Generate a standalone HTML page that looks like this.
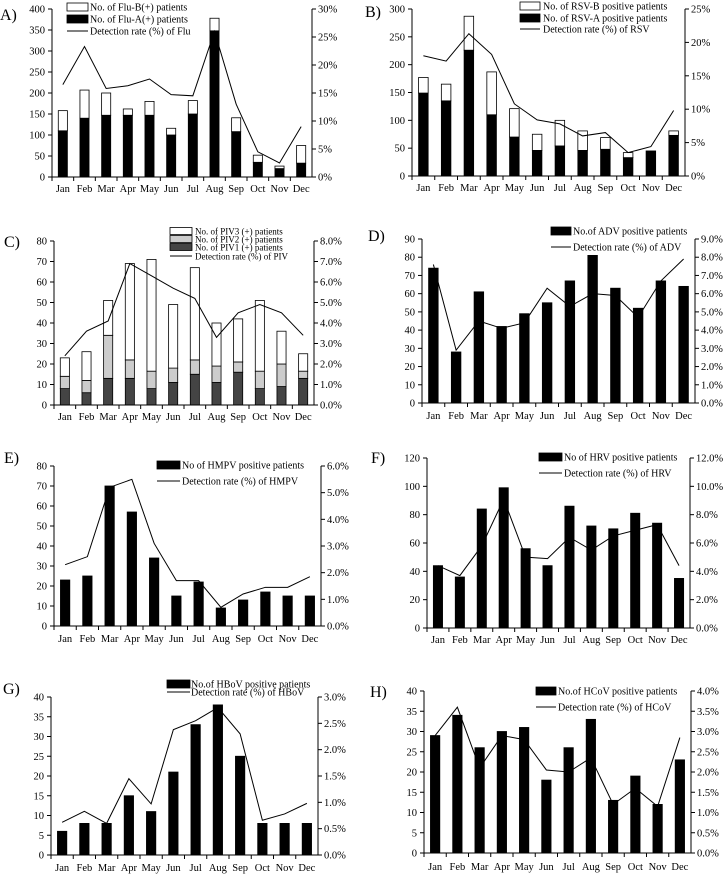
<!DOCTYPE html>
<html><head><meta charset="utf-8">
<style>
html,body{margin:0;padding:0;background:#fff;}
svg{display:block;font-family:"Liberation Serif",serif;}
</style></head>
<body>
<svg id="chart" width="723" height="875" viewBox="0 0 723 875" xmlns="http://www.w3.org/2000/svg"></svg>
<script>
const months = ["Jan","Feb","Mar","Apr","May","Jun","Jul","Aug","Sep","Oct","Nov","Dec"];
// A Flu
const fluA = [110,140,147,147,147,100,150,348,108,35,20,33];
const fluB = [48,67,53,15,33,16,32,30,33,17,6,42];
const fluRate = [16.5,23.3,15.8,16.3,17.5,14.7,14.5,26,13,4.5,2.5,9];
// B RSV
const rsvA = [149,135,226,110,70,46,54,46,48,33,45,73];
const rsvB = [28,30,61,77,51,29,46,35,21,9,0,8];
const rsvRate = [18,17.2,21.3,18.2,10.8,8.4,7.8,6,6.5,3.5,4.4,9.8];
// C PIV
const piv1 = [8,6,13,13,8,11,15,11,16,8,9,13];
const piv2 = [6,6,21,9,8.5,7,7,8,5,8.5,11,3.5];
const piv3 = [9,14,17,47,54.5,31,45,21,21,34.5,16,8.5];
const pivRate = [2.4,3.6,4.1,6.9,6.3,5.7,5.2,3.3,4.5,4.9,4.5,3.4];
// D ADV
const adv = [74,28,61,42,49,55,67,81,63,52,67,64];
const advRate = [7.6,2.9,4.5,4.1,4.4,6.3,5.3,6,5.9,4.7,6.7,7.9];
// E HMPV
const hmpv = [23,25,70,57,34,15,22,9,13,17,15,15];
const hmpvRate = [2.3,2.6,5.2,5.5,3.1,1.7,1.7,0.7,1.2,1.45,1.45,1.85];
// F HRV
const hrv = [44,36,84,99,56,44,86,72,70,81,74,35];
const hrvRate = [4.4,3.7,5.8,9.1,5,4.9,6.4,5.5,6.5,6.9,7.3,4.4];
// G HBoV
const hbov = [6,8,8,15,11,21,33,38,25,8,8,8];
const hbovRate = [0.62,0.83,0.6,1.45,0.97,2.38,2.55,2.8,2.3,0.66,0.78,0.98];
// H HCoV
const hcov = [29,34,26,30,31,18,26,33,13,19,12,23];
const hcovRate = [2.9,3.6,2.1,2.9,2.8,2.05,2.0,2.35,1.2,1.6,1.15,2.85];

const NS = "http://www.w3.org/2000/svg";
const svg = document.getElementById("chart");
function mk(tag, attrs, parent, text){
  const e = document.createElementNS(NS, tag);
  for (const k in attrs) e.setAttribute(k, attrs[k]);
  if (text !== undefined) e.textContent = text;
  (parent || svg).appendChild(e);
  return e;
}

const panels = [
 {id:"a",label:"A)",lx:0,ly:20,L:52,R:312,T:9,B:177,lmax:400,lstep:50,rmax:30,rstep:5,dec:0,xl:192,
  series:[{v:fluA,fill:"#000",name:"No. of Flu-A(+) patients"},{v:fluB,fill:"#fff",name:"No. of Flu-B(+) patients"}],
  rate:fluRate,rateName:"Detection rate (%) of Flu",
  leg:{x:67,w:21,tx:90,rows:[7,19,31],fs:10}},
 {id:"b",label:"B)",lx:365,ly:17,L:412,R:685,T:9,B:176,lmax:300,lstep:50,rmax:25,rstep:5,dec:0,xl:191,
  series:[{v:rsvA,fill:"#000",name:"No. of RSV-A positive patients"},{v:rsvB,fill:"#fff",name:"No. of RSV-B positive patients"}],
  rate:rsvRate,rateName:"Detection rate (%) of RSV",
  leg:{x:520,w:20,tx:543,rows:[6,18,29],fs:10}},
 {id:"c",label:"C)",lx:4,ly:247,L:54,R:314,T:241,B:405,lmax:80,lstep:10,rmax:8,rstep:1,dec:1,xl:420,
  series:[{v:piv1,fill:"#444",name:"No. of PIV1 (+) patients"},{v:piv2,fill:"#ccc",name:"No. of PIV2 (+) patients"},{v:piv3,fill:"#fff",name:"No. of PIV3 (+) patients"}],
  rate:pivRate,rateName:"Detection rate (%) of PIV",
  leg:{x:170,w:22,tx:195,rows:[231,239,247,256],fs:9}},
 {id:"d",label:"D)",lx:368,ly:241,L:422,R:695,T:239,B:403,lmax:90,lstep:10,rmax:9,rstep:1,dec:1,xl:419,
  series:[{v:adv,fill:"#000",name:"No.of ADV positive patients"}],
  rate:advRate,rateName:"Detection rate (%) of ADV",
  leg:{x:551,w:20,tx:573,rows:[231,247],fs:10}},
 {id:"e",label:"E)",lx:4,ly:463,L:54,R:321,T:466,B:626,lmax:80,lstep:10,rmax:6,rstep:1,dec:1,xl:642,
  series:[{v:hmpv,fill:"#000",name:"No of HMPV positive patients"}],
  rate:hmpvRate,rateName:"Detection rate (%) of HMPV",
  leg:{x:157,w:23,tx:182,rows:[465,481],fs:10}},
 {id:"f",label:"F)",lx:371,ly:463,L:427,R:690,T:458,B:628,lmax:120,lstep:20,rmax:12,rstep:2,dec:1,xl:643,
  series:[{v:hrv,fill:"#000",name:"No of HRV positive patients"}],
  rate:hrvRate,rateName:"Detection rate (%) of HRV",
  leg:{x:539,w:23,tx:564,rows:[457,473],fs:10}},
 {id:"g",label:"G)",lx:3,ly:694,L:51,R:318,T:697,B:855,lmax:40,lstep:5,rmax:3,rstep:0.5,dec:1,xl:871,
  series:[{v:hbov,fill:"#000",name:"No.of HBoV positive patients"}],
  rate:hbovRate,rateName:"Detection rate (%) of HBoV",
  leg:{x:167,w:23,tx:191,rows:[684,692],fs:10}},
 {id:"h",label:"H)",lx:370,ly:697,L:424,R:691,T:691,B:853,lmax:40,lstep:5,rmax:4,rstep:0.5,dec:1,xl:870,
  series:[{v:hcov,fill:"#000",name:"No.of HCoV positive patients"}],
  rate:hcovRate,rateName:"Detection rate (%) of HCoV",
  leg:{x:536,w:20,tx:558,rows:[691,707],fs:10}}
];

panels.forEach(p => {
  const g = mk("g", {});
  
  
  const lab = mk("text", {x:p.lx, y:p.ly, "font-size":16}, g, p.label);
  
  
  const cw = (p.R - p.L) / months.length;
  const bw = cw * 0.42;
  const yL = v => p.B - v / p.lmax * (p.B - p.T);
  const yR = v => p.B - v / p.rmax * (p.B - p.T);
  const xC = i => p.L + cw * (i + 0.5);
  // bars
  months.forEach((m, i) => {
    let acc = 0;
    p.series.forEach((s, si) => {
      const v = s.v[i];
      if (v <= 0) return;
      const y1 = yL(acc + v), y0 = yL(acc);
      const r = mk("rect", {x:xC(i)-bw/2, y:y1, width:bw, height:y0-y1, fill:s.fill, stroke:"#000", "stroke-width":0.8}, g);
      
      
      acc += v;
    });
  });
  // axes
  const ax = mk("path", {d:`M${p.L},${p.T}V${p.B}H${p.R}V${p.T}`, fill:"none", stroke:"#000", "stroke-width":1}, g);
  
  
  for (let v = 0; v <= p.lmax + 1e-9; v += p.lstep) {
    const y = yL(v);
    mk("line", {x1:p.L-4, x2:p.L, y1:y, y2:y, stroke:"#000"}, g);
    const t = mk("text", {x:p.L-7, y:y+3.5, "font-size":10.5, "text-anchor":"end"}, g, String(v));
    
    
  }
  for (let v = 0; v <= p.rmax + 1e-9; v += p.rstep) {
    const y = yR(v);
    mk("line", {x1:p.R, x2:p.R+4, y1:y, y2:y, stroke:"#000"}, g);
    const t = mk("text", {x:p.R+6, y:y+3.5, "font-size":10.5}, g, v.toFixed(p.dec) + "%");
    
    
  }
  months.forEach((m, i) => {
    const xt = p.L + cw * i;
    mk("line", {x1:xt, x2:xt, y1:p.B, y2:p.B+4, stroke:"#000"}, g);
    const t = mk("text", {x:xC(i), y:p.xl, "font-size":10.5, "text-anchor":"middle"}, g, m);
    
    
  });
  // rate line
  const pts = p.rate.map((r, i) => xC(i) + "," + yR(r)).join(" ");
  const pl = mk("polyline", {points:pts, fill:"none", stroke:"#000", "stroke-width":1}, g);
  
  
  // legend
  const lg = mk("g", {}, g);
  
  
  const items = p.series.slice().reverse();
  const lw = p.leg;
  const h = lw.fs === 9 ? 7 : 8;
  items.forEach((s, k) => {
    const y = lw.rows[k];
    mk("rect", {x:lw.x, y:y-h/2, width:lw.w, height:h, fill:s.fill, stroke:"#000", "stroke-width":0.8}, lg);
    const t = mk("text", {x:lw.tx, y:y+3.5, "font-size":lw.fs}, lg, s.name);
    
    
  });
  const yl = lw.rows[items.length];
  mk("line", {x1:lw.x, x2:lw.x+lw.w, y1:yl, y2:yl, stroke:"#000"}, lg);
  const t = mk("text", {x:lw.tx, y:yl+3.5, "font-size":lw.fs}, lg, p.rateName);
  
  
});
</script>
</body></html>
